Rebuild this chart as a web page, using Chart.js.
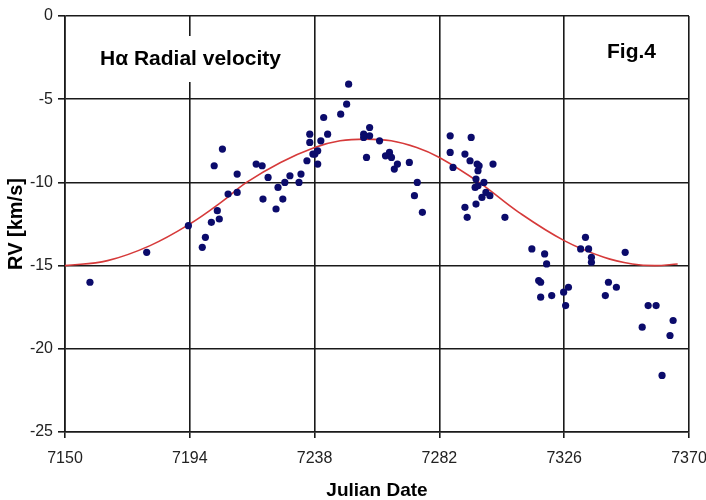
<!DOCTYPE html>
<html>
<head>
<meta charset="utf-8">
<script src="https://cdn.jsdelivr.net/npm/chart.js@4.4.1/dist/chart.umd.min.js"></script>
<style>
  html, body { margin: 0; padding: 0; background: #fff; }
  #wrap { width: 706px; height: 500px; }
</style>
</head>
<body>
<div id="wrap"><canvas id="chart" width="706" height="500"></canvas></div>
<script>
// observed radial velocities (Julian Date - 2450000, km/s)
const obsDate = [
  7158.8, 7178.8, 7193.5, 7198.4, 7199.5, 7201.6, 7204.4, 7203.7, 7202.6, 7205.5,
  7207.5, 7210.7, 7210.7, 7217.4, 7219.5, 7219.8, 7221.6, 7224.4, 7225.1, 7226.8,
  7227.5, 7229.3, 7232.5, 7233.2, 7235.3, 7236.3, 7236.3, 7237.4, 7238.1, 7239.1,
  7239.1, 7240.2, 7241.2, 7242.6, 7247.2, 7249.3, 7250.0, 7255.3, 7255.3, 7257.4,
  7257.4, 7256.3, 7260.9, 7263.0, 7264.4, 7265.1, 7266.1, 7267.2, 7271.4, 7274.2,
  7273.2, 7276.0, 7285.8, 7285.8, 7286.8, 7293.2, 7291.0, 7292.8, 7295.3, 7296.0,
  7295.6, 7300.9, 7294.9, 7294.6, 7295.6, 7297.7, 7298.4, 7297.0, 7299.8, 7291.0,
  7291.8, 7294.9, 7305.1, 7314.6, 7319.1, 7319.8, 7317.0, 7317.7, 7317.7, 7321.6,
  7325.8, 7327.5, 7326.5, 7333.5, 7331.8, 7334.6, 7335.6, 7335.6, 7347.5, 7341.6,
  7340.5, 7344.4, 7355.6, 7358.4, 7353.5, 7364.4, 7363.3, 7360.5
];
const obsRV = [
  -16.0, -14.2, -12.6, -13.9, -13.3, -12.4, -12.2, -11.7, -9.0, -8.0,
  -10.7, -10.6, -9.5, -8.9, -9.0, -11.0, -9.7, -11.6, -10.3, -11.0,
  -10.0, -9.6, -10.0, -9.5, -8.7, -7.1, -7.6, -8.3, -8.3, -8.9,
  -8.1, -7.5, -6.1, -7.1, -5.9, -5.3, -4.1, -7.1, -7.3, -6.7,
  -7.2, -8.5, -7.5, -8.4, -8.2, -8.5, -9.2, -8.9, -8.8, -10.0,
  -10.8, -11.8, -7.2, -8.2, -9.1, -7.3, -8.3, -8.7, -8.9, -9.0,
  -9.3, -8.9, -9.8, -10.3, -10.2, -10.0, -10.6, -10.9, -10.8, -11.5,
  -12.1, -11.3, -12.1, -14.0, -14.3, -14.9, -15.9, -16.0, -16.9, -16.8,
  -16.6, -16.3, -17.4, -13.3, -14.0, -14.0, -14.5, -14.8, -14.2, -16.0,
  -16.8, -16.3, -17.4, -17.4, -18.7, -18.3, -19.2, -21.6
];

// fitted curve
const fitDate = [7150, 7165, 7180, 7194, 7205, 7214, 7226, 7238, 7247, 7256,
                 7265, 7274, 7282, 7296, 7310, 7326, 7340, 7350, 7358, 7366];
const fitRV = [-15.0, -14.7, -13.8, -12.5, -11.2, -10.0, -8.8, -7.9, -7.5, -7.4,
               -7.5, -7.9, -8.5, -10.0, -11.8, -13.5, -14.5, -14.9, -15.0, -14.9];

const xMin = 7150, xMax = 7370, xStep = 44;
const yMin = -25, yMax = 0, yStep = 5;

const tickFont = { family: "'Liberation Sans', Arial, sans-serif", size: 16 };
const xTitleFont = { family: "'Liberation Sans', Arial, sans-serif", size: 19, weight: 'bold', lineHeight: 1 };
const yTitleFont = { family: "'Liberation Sans', Arial, sans-serif", size: 20, weight: 'bold', lineHeight: 1 };

const labelsPlugin = {
  id: 'labels',
  afterDraw(chart) {
    const ctx = chart.ctx;
    ctx.save();
    ctx.fillStyle = '#fff';
    ctx.fillRect(86, 36, 210, 46);
    ctx.fillStyle = '#000';
    ctx.font = "bold 21px 'Liberation Sans', Arial, sans-serif";
    ctx.textBaseline = 'middle';
    ctx.fillText('H\u03b1 Radial velocity', 100, 59);
    ctx.fillText('Fig.4', 607, 52);
    ctx.restore();
  }
};

new Chart(document.getElementById('chart').getContext('2d'), {
  type: 'scatter',
  data: {
    datasets: [
      {
        label: 'RV',
        data: obsDate.map((d, i) => ({ x: d, y: obsRV[i] })),
        backgroundColor: '#0b0b6b',
        borderColor: '#0b0b6b',
        pointRadius: 3.6,
        pointBorderWidth: 0
      },
      {
        label: 'fit',
        type: 'line',
        data: fitDate.map((d, i) => ({ x: d, y: fitRV[i] })),
        borderColor: '#d63a3a',
        borderWidth: 1.6,
        pointRadius: 0,
        tension: 0.4,
        fill: false
      }
    ]
  },
  options: {
    responsive: false,
    animation: false,
    layout: { padding: 0 },
    plugins: {
      legend: { display: false },
      tooltip: { enabled: false }
    },
    scales: {
      x: {
        type: 'linear',
        min: xMin,
        max: xMax,
        ticks: { stepSize: xStep, color: '#222', font: tickFont, padding: 11, callback: v => String(v) },
        grid: { color: '#1a1a1a', lineWidth: 1.6, tickLength: 6 },
        border: { color: '#1a1a1a', width: 1.6 },
        title: { display: true, text: 'Julian Date', color: '#000', font: xTitleFont, padding: { top: 4, bottom: 0 } },
        afterFit: s => { s.height = 68; s.paddingRight = 17; s.paddingLeft = 0; }
      },
      y: {
        min: yMin,
        max: yMax,
        ticks: { stepSize: yStep, color: '#222', font: tickFont, padding: 5 },
        grid: { color: '#1a1a1a', lineWidth: 1.6, tickLength: 7 },
        border: { color: '#1a1a1a', width: 1.6 },
        title: { display: true, text: 'RV [km/s]', color: '#000', font: yTitleFont, padding: { top: 6, bottom: 4 } },
        afterFit: s => { s.width = 65; s.paddingTop = 16; s.paddingBottom = 0; }
      }
    }
  },
  plugins: [labelsPlugin]
});
</script>
</body>
</html>
